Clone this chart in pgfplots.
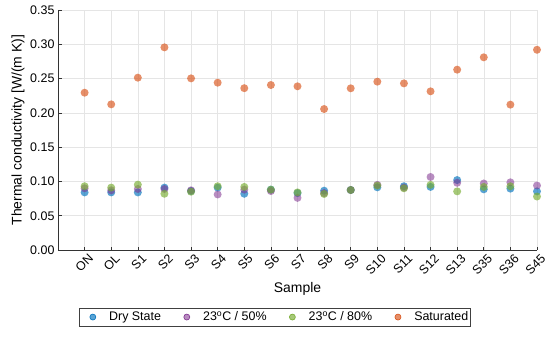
\documentclass[border=0pt]{standalone}
\usepackage{fontspec}
\setmainfont{Liberation Sans}
\usepackage{pgfplots}
\pgfplotsset{compat=1.18}
\definecolor{cblue}{HTML}{0072BD}
\definecolor{cpurple}{HTML}{7E2F8E}
\definecolor{cgreen}{HTML}{77AC30}
\definecolor{corange}{HTML}{D95319}
\begin{document}
\begin{tikzpicture}
\useasboundingbox (0,0) rectangle (550bp,337bp);
\begin{axis}[
  at={(58bp,87bp)}, anchor=south west,
  scale only axis, width=479bp, height=240bp,
  xmin=-1, xmax=17, ymin=0, ymax=0.35,
  xtick={0,...,17},
  xticklabels={ON,OL,S1,S2,S3,S4,S5,S6,S7,S8,S9,S10,S11,S12,S13,S35,S36,S45},
  ytick={0,0.05,0.10,0.15,0.20,0.25,0.30,0.35},
  yticklabel style={/pgf/number format/.cd,fixed,fixed zerofill,precision=2,assume math mode=true},
  grid=major, major grid style={draw=black!10, line width=0.5pt},
  axis x line*=bottom, axis y line*=left,
  axis line style={draw=black!80,-, line width=0.6pt},
  tick style={draw=black!80, line width=0.6pt}, major tick length=3.5bp, tick align=inside,
  ticklabel style={font=\fontsize{12.5}{14}\selectfont},
  xticklabel style={rotate=45, anchor=north east, xshift=3.5bp, yshift=-1bp},
  xlabel={Sample}, ylabel={Thermal conductivity [W/(m K)]},
  label style={font=\fontsize{14}{16}\selectfont},
  xlabel style={yshift=1bp},
  ylabel style={yshift=-1bp},
  legend columns=4,
  legend style={at={(0.4528,-0.2417)}, anchor=north, draw=black!75, line width=0.6pt,
    font=\fontsize{12.5}{14}\selectfont, inner xsep=0bp, inner ysep=1.5bp,
    /tikz/every even column/.append style={column sep=10.5bp}},
  legend image code/.code={\path (-5bp,0bp) (22bp,0bp); \fill (8bp,0bp) circle (3bp);},
]
\addplot[only marks, mark=*, mark size=4bp, color=cblue, fill opacity=0.65,
  mark options={fill=cblue, fill opacity=0.65, draw opacity=0}] coordinates {
(0,0.084) (1,0.084) (2,0.084) (3,0.091) (4,0.086) (5,0.091) (6,0.082) (7,0.088) (8,0.083)
(9,0.0865) (10,0.0875) (11,0.0914) (12,0.093) (13,0.092) (14,0.102) (15,0.0885) (16,0.0895) (17,0.0855)};
\addlegendentry{Dry State}
\addplot[only marks, mark=*, mark size=4bp, color=cpurple, fill opacity=0.55,
  mark options={fill=cpurple, fill opacity=0.55, draw opacity=0}] coordinates {
(0,0.090) (1,0.087) (2,0.089) (3,0.089) (4,0.087) (5,0.081) (6,0.088) (7,0.086) (8,0.076)
(9,0.083) (10,0.0875) (11,0.095) (12,0.091) (13,0.1065) (14,0.098) (15,0.097) (16,0.0987) (17,0.094)};
\addlegendentry{23\textsuperscript{o}C / 50\%}
\addplot[only marks, mark=*, mark size=4bp, color=cgreen, fill opacity=0.65,
  mark options={fill=cgreen, fill opacity=0.65, draw opacity=0}] coordinates {
(0,0.093) (1,0.091) (2,0.0953) (3,0.082) (4,0.085) (5,0.093) (6,0.092) (7,0.088) (8,0.084)
(9,0.0817) (10,0.0875) (11,0.094) (12,0.090) (13,0.095) (14,0.0855) (15,0.092) (16,0.093) (17,0.078)};
\addlegendentry{23\textsuperscript{o}C / 80\%}
\addplot[only marks, mark=*, mark size=4bp, color=corange, fill opacity=0.65,
  mark options={fill=corange, fill opacity=0.65, draw opacity=0}] coordinates {
(0,0.2294) (1,0.2124) (2,0.2513) (3,0.2955) (4,0.2503) (5,0.244) (6,0.236) (7,0.2406) (8,0.2387)
(9,0.2056) (10,0.2358) (11,0.2455) (12,0.243) (13,0.2314) (14,0.263) (15,0.281) (16,0.212) (17,0.292)};
\addlegendentry{Saturated}
\end{axis}
\end{tikzpicture}
\end{document}
